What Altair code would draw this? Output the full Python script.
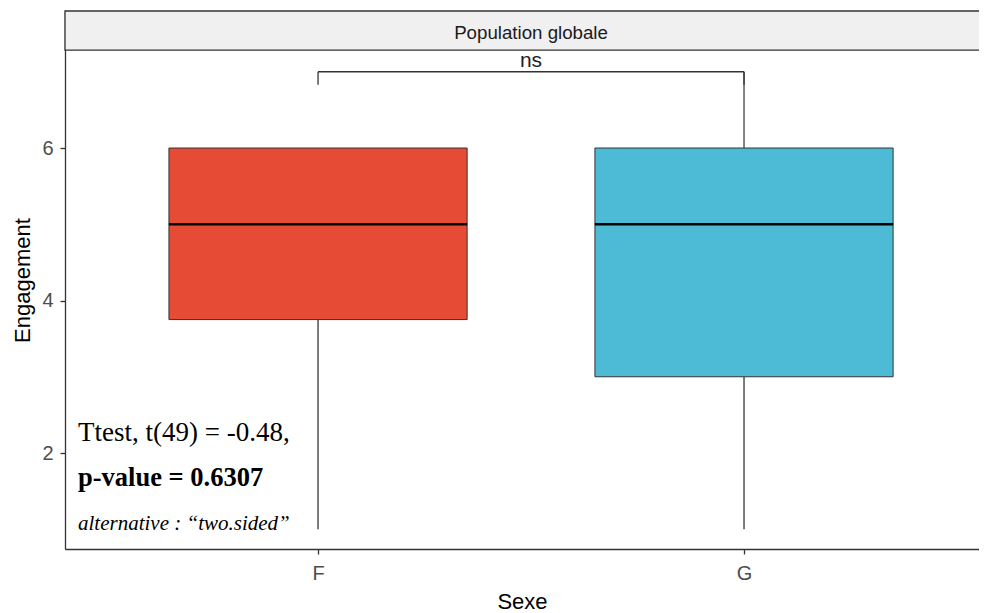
import altair as alt
import pandas as pd

# ---- data ----
categories = ["F", "G"]
whisker_low = [1, 1]
q1 = [3.75, 3]
median = [5, 5]
q3 = [6, 6]
whisker_high = [6, 7]
colors = ["#E64B35", "#4DBBD5"]

facet_label = "Population globale"
signif_label = "ns"
bracket_y = [7]
bracket_tip = [6.83]
test_lines = ["Ttest, t(49) = -0.48,", "p-value = 0.6307", "alternative : \u201ctwo.sided\u201d"]

y_ticks = [2, 4, 6]

# ---- layout constants ----
X_DOMAIN = [0.406, 2.5516]
Y_DOMAIN = [0.741, 7.797]
STRIP_BOTTOM = 7.285
HALF_BOX = 0.35
W, H = 914, 538

df = pd.DataFrame({
    "Sexe": categories,
    "pos": [i + 1 for i in range(len(categories))],
    "wlow": whisker_low,
    "q1": q1,
    "med": median,
    "q3": q3,
    "whigh": whisker_high,
})

xs = alt.Scale(domain=X_DOMAIN, nice=False, zero=False)
ys = alt.Scale(domain=Y_DOMAIN, nice=False, zero=False)

label_expr = " : ".join(
    [f"datum.value == {i + 1} ? '{c}'" for i, c in enumerate(categories)]
) + " : ''"

x_enc = alt.X("pos:Q", scale=xs, title="Sexe",
              axis=alt.Axis(values=[i + 1 for i in range(len(categories))],
                            labelExpr=label_expr, labelPadding=9, titlePadding=8))
y_axis = alt.Axis(values=y_ticks, format="d", title="Engagement",
                  labelPadding=7, titlePadding=7)

base = alt.Chart(df).transform_calculate(
    xl=f"datum.pos - {HALF_BOX}", xr=f"datum.pos + {HALF_BOX}"
)

whisk_lo = base.mark_rule(color="#444", strokeWidth=1.4).encode(
    x=x_enc, y=alt.Y("wlow:Q", scale=ys, axis=y_axis), y2="q1:Q")
whisk_hi = base.mark_rule(color="#666", strokeWidth=1.6).encode(
    x="pos:Q", y=alt.Y("q3:Q", scale=ys), y2="whigh:Q")

boxes = base.mark_rect(stroke="#333", strokeWidth=1).encode(
    x=alt.X("xl:Q", scale=xs), x2="xr:Q",
    y=alt.Y("q1:Q", scale=ys), y2="q3:Q",
    fill=alt.Fill("Sexe:N", scale=alt.Scale(domain=categories, range=colors), legend=None),
)
medians = base.mark_rule(color="#000", strokeWidth=2.6).encode(
    x=alt.X("xl:Q", scale=xs), x2="xr:Q", y=alt.Y("med:Q", scale=ys))

# significance bracket
br = pd.DataFrame({"x1": [1], "x2": [2], "y": bracket_y, "tip": bracket_tip,
                   "lab": [signif_label], "xm": [1.5]})
br_h = alt.Chart(br).mark_rule(color="#333", strokeWidth=1.3).encode(
    x=alt.X("x1:Q", scale=xs), x2="x2:Q", y=alt.Y("y:Q", scale=ys))
br_l = alt.Chart(br).mark_rule(color="#333", strokeWidth=1.3).encode(
    x=alt.X("x1:Q", scale=xs), y=alt.Y("tip:Q", scale=ys), y2="y:Q")
br_r = alt.Chart(br).mark_rule(color="#333", strokeWidth=1.3).encode(
    x=alt.X("x2:Q", scale=xs), y=alt.Y("tip:Q", scale=ys), y2="y:Q")
br_t = alt.Chart(br).mark_text(fontSize=21, font="Liberation Sans", color="#222",
                               baseline="alphabetic", dy=-5).encode(
    x=alt.X("xm:Q", scale=xs), y=alt.Y("y:Q", scale=ys), text="lab:N")

# facet strip
strip_df = pd.DataFrame({"y1": [STRIP_BOTTOM], "y2": [Y_DOMAIN[1]], "lab": [facet_label],
                         "xm": [1.5], "ym": [7.512]})
strip = alt.Chart(strip_df).mark_rect(fill="#f0f0f0", stroke="#333", strokeWidth=1.3).encode(
    x=alt.value(0), x2=alt.value(W + 3), y=alt.Y("y1:Q", scale=ys), y2="y2:Q")
strip_t = alt.Chart(strip_df).mark_text(fontSize=18.7, font="Liberation Sans", color="#1a1a1a",
                                        baseline="middle").encode(
    x=alt.X("xm:Q", scale=xs), y=alt.Y("ym:Q", scale=ys), text="lab:N")

# test annotation
ann_x = 0.4365
ann_y = [2.26, 1.67, 1.07]
styles = [dict(fontSize=27, fontWeight="normal", fontStyle="normal"),
          dict(fontSize=26.5, fontWeight="bold", fontStyle="normal"),
          dict(fontSize=21, fontWeight="normal", fontStyle="italic")]
ann_layers = []
for line, yy, st in zip(test_lines, ann_y, styles):
    d = pd.DataFrame({"x": [ann_x], "y": [yy], "t": [line]})
    ann_layers.append(
        alt.Chart(d).mark_text(font="Liberation Serif", color="#000", align="left",
                               baseline="middle", **st).encode(
            x=alt.X("x:Q", scale=xs), y=alt.Y("y:Q", scale=ys), text="t:N"))

chart = alt.layer(
    strip, strip_t, whisk_lo, whisk_hi, boxes, medians, br_h, br_l, br_r, br_t, *ann_layers
).properties(
    width=W, height=H,
    padding={"left": 57, "top": 3, "right": 0, "bottom": 70},
    autosize=alt.AutoSizeParams(type="none"),
).configure_view(stroke=None).configure_axis(
    grid=False, domainColor="#333", domainWidth=1.3, tickColor="#333", tickSize=5,
    tickWidth=1.3, labelColor="#4d4d4d", labelFont="Liberation Sans", labelFontSize=20,
    titleFont="Liberation Sans", titleFontSize=22, titleColor="#000", titleFontWeight="normal",
)

chart.save("out.html", embed_options={"renderer": "svg", "actions": False})
